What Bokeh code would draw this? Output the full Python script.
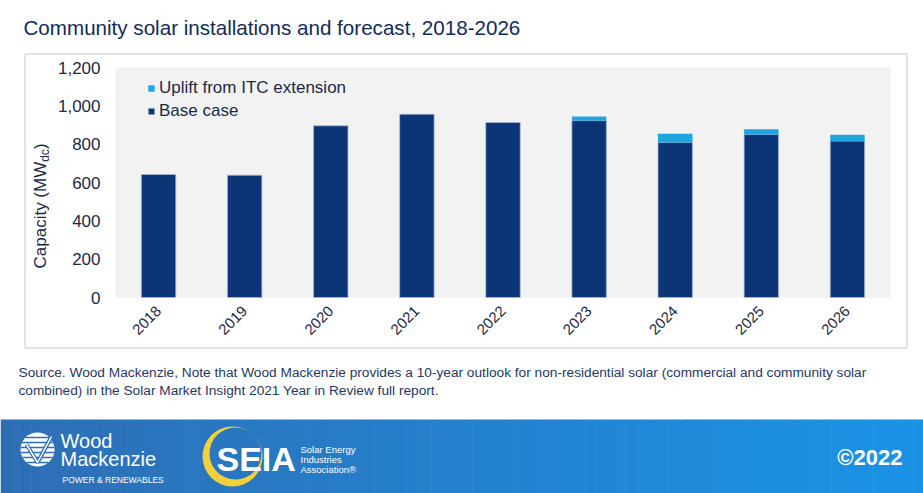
import math
import numpy as np
from bokeh.plotting import figure
from bokeh.models import (ColumnDataSource, Range1d, LinearAxis, NumeralTickFormatter,
                          Legend, LegendItem, Label, FixedTicker)
from bokeh.embed import file_html
from bokeh.resources import INLINE
from bokeh.core.properties import value

# ---------------- data ----------------
years = ["2018", "2019", "2020", "2021", "2022", "2023", "2024", "2025", "2026"]
base_case = [642, 638, 896, 956, 913, 923, 809, 850, 816]
itc_uplift = [0, 0, 0, 0, 0, 21, 45, 28, 33]
y_ticks = [0, 200, 400, 600, 800, 1000, 1200]
series_labels = ["Uplift from ITC extension", "Base case"]

title_text = "Community solar installations and forecast, 2018-2026"
source_lines = [
    "Source. Wood Mackenzie, Note that Wood Mackenzie provides a 10-year outlook for non-residential solar (commercial and community solar",
    "combined) in the Solar Market Insight 2021 Year in Review full report.",
]

FONT = "Liberation Sans"
NAVY = "#0b3576"
LIGHT = "#1fa6e0"
TXT = "#1b2a47"
TITLE_C = "#112b5c"

# ---------------- page layout (pixels) ----------------
W, H = 923, 493
PL, PR, PT, PB = 115, 890, 67, 297          # plot-area box
Y_MIN, Y_MAX = 0, 1200

ky = (PB - PT) / (Y_MAX - Y_MIN)
cap_range = Range1d(Y_MIN - (H - PB) / ky, Y_MAX + PT / ky)
ncat = len(years)
kx = (PR - PL) / ncat
cat_range = Range1d(-PL / kx, ncat + (W - PR) / kx)

p = figure(width=W, height=H, x_range=Range1d(0, W), y_range=Range1d(H, 0),
           x_axis_type=None, y_axis_type=None, output_backend="svg", toolbar_location=None,
           min_border=0, outline_line_color=None, background_fill_color="white",
           border_fill_color="white")
p.extra_y_ranges = {"cap": cap_range}
p.extra_x_ranges = {"cat": cat_range}
p.grid.visible = False

# chart object frame and plot-area background
p.quad(left=[24.5], right=[906.5], top=[53.5], bottom=[347.5], fill_color=None,
       line_color="#c8c8c8", line_width=1)
p.quad(left=[PL], right=[PR], top=[PT], bottom=[PB], fill_color="#f2f2f2", line_color=None)

# bars
xpos = [i + 0.5 for i in range(ncat)]
src = ColumnDataSource(dict(x=xpos, year=years, base=base_case, uplift=itc_uplift))
rs = p.vbar_stack(["base", "uplift"], x="x", width=0.4, source=src,
                  x_range_name="cat", y_range_name="cap",
                  fill_color=[NAVY, LIGHT], line_color=["#a7b7d0", None], line_width=0.8)

# axes
yaxis = LinearAxis(y_range_name="cap", fixed_location=PL,
                   ticker=FixedTicker(ticks=y_ticks),
                   formatter=NumeralTickFormatter(format="0,0"))
yaxis.axis_line_color = None
yaxis.major_tick_line_color = None
yaxis.minor_tick_line_color = None
yaxis.major_tick_out = 0
yaxis.major_tick_in = 0
yaxis.major_label_standoff = 15
yaxis.major_label_text_font = FONT
yaxis.major_label_text_font_size = "17px"
yaxis.major_label_text_color = TXT
p.add_layout(yaxis, "left")

xaxis = LinearAxis(x_range_name="cat", fixed_location=PB,
                   ticker=FixedTicker(ticks=xpos),
                   major_label_overrides={xv: yr for xv, yr in zip(xpos, years)})
xaxis.axis_line_color = None
xaxis.major_tick_line_color = None
xaxis.minor_tick_line_color = None
xaxis.major_tick_out = 0
xaxis.major_tick_in = 0
xaxis.major_label_orientation = math.pi / 4
xaxis.major_label_standoff = 11
xaxis.major_label_text_font = FONT
xaxis.major_label_text_font_size = "15px"
xaxis.major_label_text_color = TXT
p.add_layout(xaxis, "below")

legend = Legend(items=[LegendItem(label=series_labels[0], renderers=[rs[1]]),
                       LegendItem(label=series_labels[1], renderers=[rs[0]])],
                location=(147, 372), padding=0, margin=0, spacing=3,
                glyph_width=8, glyph_height=8, label_height=20, label_standoff=4,
                label_text_font=FONT, label_text_font_size="17px", label_text_color=TXT,
                background_fill_alpha=0, border_line_alpha=0)
p.add_layout(legend)

# title
p.text(x=[23], y=[27], text=[title_text], text_font=value(FONT), text_font_size="20.6px",
       text_color=TITLE_C, text_baseline="middle", text_align="left")

# y axis title with subscript (screen units from bottom-left)
ax_x, ax_y = 40, H - 268
p.add_layout(Label(x=ax_x, y=ax_y, x_units="screen", y_units="screen", text="Capacity (MW",
                   angle=math.pi / 2, text_font=FONT, text_font_size="17px", text_color=TXT,
                   text_baseline="middle", text_align="left"))
p.add_layout(Label(x=ax_x + 4, y=ax_y + 106.7, x_units="screen", y_units="screen", text="dc",
                   angle=math.pi / 2, text_font=FONT, text_font_size="12px", text_color=TXT,
                   text_baseline="middle", text_align="left"))
p.add_layout(Label(x=ax_x, y=ax_y + 119.5, x_units="screen", y_units="screen", text=")",
                   angle=math.pi / 2, text_font=FONT, text_font_size="17px", text_color=TXT,
                   text_baseline="middle", text_align="left"))

# source note
p.text(x=[18, 18], y=[372, 390], text=source_lines, text_font=value(FONT),
       text_font_size="13.7px", text_color="#1f3864", text_baseline="middle", text_align="left")

# ---------------- footer band ----------------
c0 = np.array([0x2e, 0x6e, 0xb5])
c1 = np.array([0x1a, 0x93, 0xe6])


def band_color(xp):
    t = min(max(xp / float(W), 0), 1)
    c = c0 + (c1 - c0) * t
    return "#%02x%02x%02x" % tuple(int(round(v)) for v in c)


n = 90
edges = np.linspace(0, W, n + 1)
cols = [band_color((edges[i] + edges[i + 1]) / 2) for i in range(n)]
p.quad(left=edges[:-1], right=edges[1:] + 0.6, top=419, bottom=H + 1, fill_color=cols, line_color=None)

# Wood Mackenzie mark
p.circle(x=[37], y=[449], radius=17, fill_color="white", line_color=None)
stripe_y = [437, 442, 447, 452, 457, 462]
sx0, sx1 = [], []
for yy in stripe_y:
    hw = math.sqrt(max(17 ** 2 - (yy - 449) ** 2, 0))
    sx0.append(37 - hw)
    sx1.append(37 + hw)
p.segment(x0=sx0, y0=stripe_y, x1=sx1, y1=stripe_y, line_color=band_color(37), line_width=1.6)
p.line(x=[26, 37, 51], y=[444, 462, 436], line_color=band_color(37), line_width=4)
p.line(x=[26, 37, 51], y=[444, 462, 436], line_color="white", line_width=1.5)
p.text(x=[60, 60], y=[440, 458], text=["Wood", "Mackenzie"], text_font=value(FONT),
       text_font_size="20px", text_color="white", text_baseline="middle")
p.text(x=[62], y=[479], text=["POWER & RENEWABLES"], text_font=value(FONT),
       text_font_size="8.5px", text_color="white", text_baseline="middle")

# SEIA mark
p.circle(x=[232], y=[456], radius=30, fill_color="#f3d03a", line_color=None)
p.circle(x=[235], y=[453], radius=26, fill_color=band_color(235), line_color=None)
p.text(x=[216], y=[458], text=["SEIA"], text_font=value(FONT), text_font_style="bold",
       text_font_size="34px", text_color="white", text_baseline="middle")
p.text(x=[300, 300, 300], y=[449, 459, 469], text=["Solar Energy", "Industries", "Association®"],
       text_font=value(FONT), text_font_size="9.5px", text_color="white", text_baseline="middle")

p.text(x=[902], y=[457], text=["©2022"], text_font=value(FONT), text_font_style="bold",
       text_font_size="22px", text_color="white", text_baseline="middle", text_align="right")

open("out.html", "w").write(file_html(p, INLINE))
